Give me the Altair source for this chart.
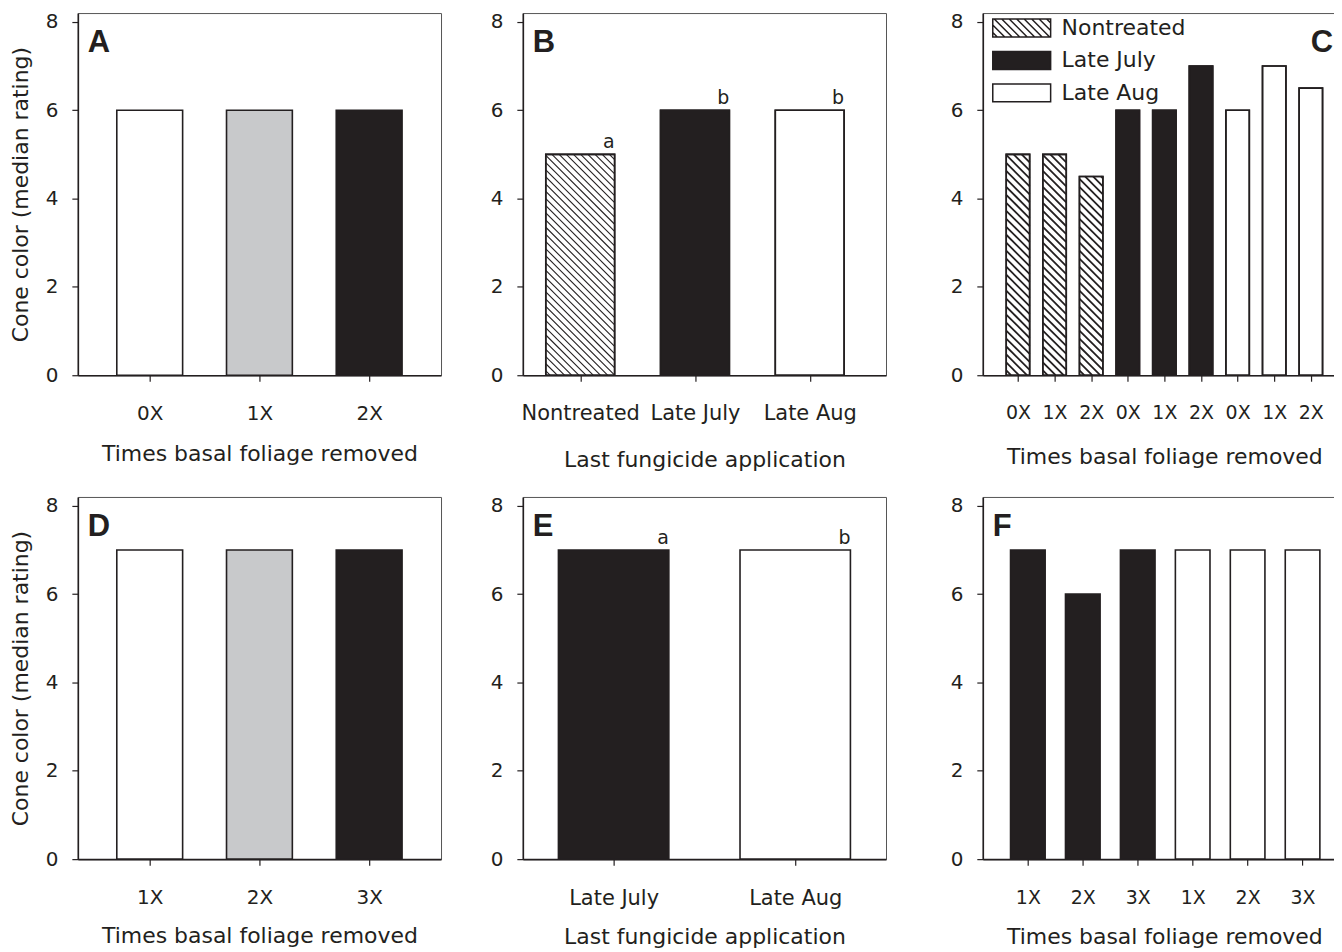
import json
import altair as alt
import pandas as pd

# ---------------- data ----------------
y_title = "Cone color (median rating)"
x_title_times = "Times basal foliage removed"
x_title_fung = "Last fungicide application"
panel_letters = ["A", "B", "C", "D", "E", "F"]
y_ticks = [0, 2, 4, 6, 8]
fungicide_groups = ["Nontreated", "Late July", "Late Aug"]

a_cats = ["0X", "1X", "2X"]
a_vals = [6, 6, 6]

b_cats = ["Nontreated", "Late July", "Late Aug"]
b_vals = [5, 6, 6]
b_sig = ["a", "b", "b"]

c_cats = ["0X", "1X", "2X", "0X", "1X", "2X", "0X", "1X", "2X"]
c_groups = ["Nontreated"] * 3 + ["Late July"] * 3 + ["Late Aug"] * 3
c_vals = [5, 5, 4.5, 6, 6, 7, 6, 7, 6.5]

d_cats = ["1X", "2X", "3X"]
d_vals = [7, 7, 7]

e_cats = ["Late July", "Late Aug"]
e_vals = [7, 7]
e_sig = ["a", "b"]

f_cats = ["1X", "2X", "3X", "1X", "2X", "3X"]
f_groups = ["Late July"] * 3 + ["Late Aug"] * 3
f_vals = [7, 6, 7, 7, 7, 7]

# ---------------- style ----------------
FONT = "DejaVu Sans"
BOLD_FONT = "Liberation Sans"
INK = "#231f20"
WHITE = "#ffffff"
GRAY = "#c8c9cb"
W, H = 364, 363
Y_MAX = 8.2


def make_df(cats, vals, groups=None, sig=None):
    d = {"pos": list(range(len(cats))), "cat": cats, "val": vals}
    if groups is not None:
        d["grp"] = groups
    if sig is not None:
        d["sig"] = sig
    return pd.DataFrame(d)


def hatch_rows(df, hw, xdom, step):
    """45-degree hatch segments clipped to each bar (bar geometry from data)."""
    kx = W / (xdom[1] - xdom[0])
    ky = H / Y_MAX
    rows = []
    for p, v in zip(df["pos"], df["val"]):
        wp, hp = 2 * hw * kx, v * ky
        c = step * 0.6
        while c < wp + hp:
            x0, x1 = max(0.0, c - hp), min(wp, c)
            rows.append(dict(hx=p - hw + x0 / kx, hy=(c - x0) / ky,
                             hx2=p - hw + x1 / kx, hy2=(c - x1) / ky))
            c += step
    return pd.DataFrame(rows)


# legend swatch: symbol "size" is 18x18 px (r = 9 px per unit); the drawn
# swatch is 58x18 px, shifted right of the symbol centre
SW_R = 9.0
SW_L, SW_RIGHT, SW_H = -5 / SW_R, 53 / SW_R, 1.0


def legend_path(hatched):
    p = f"M{SW_L:.3f},{-SW_H}H{SW_RIGHT:.3f}V{SW_H}H{SW_L:.3f}Z"
    if hatched:
        step = 7.5 / SW_R
        x = SW_L - 2 * SW_H + step * 0.6
        while x < SW_RIGHT:
            xs, ys, xe, ye = x, -SW_H, x + 2 * SW_H, SW_H
            if xs < SW_L:
                ys += (SW_L - xs)
                xs = SW_L
            if xe > SW_RIGHT:
                ye -= (xe - SW_RIGHT)
                xe = SW_RIGHT
            p += f"M{xs:.3f},{ys:.3f}L{xe:.3f},{ye:.3f}"
            x += step
    return p


def panel(df, xdom, hw, labels, fill_field, fill_dom, fill_rng, letter,
          letter_right, xtitle, ytitle, x_lab_size, x_lab_pad, x_title_pad,
          y_title_pad=0, hatch=None, sig=False, legend=False):
    xscale = alt.Scale(domain=xdom, nice=False, zero=False)
    yscale = alt.Scale(domain=[0, Y_MAX], nice=False, zero=True)
    x_axis = alt.Axis(values=list(range(len(labels))),
                      labelExpr=json.dumps(labels) + "[datum.value]",
                      title=xtitle, labelPadding=x_lab_pad,
                      titlePadding=x_title_pad, labelAngle=0,
                      labelFontSize=x_lab_size, labelOverlap=False)
    y_axis = alt.Axis(values=y_ticks, title=ytitle, titlePadding=y_title_pad)
    base = alt.Chart(df).transform_calculate(
        x0=f"datum.pos - {hw}", x1=f"datum.pos + {hw}"
    )
    leg = None
    if legend:
        leg = alt.Legend(orient="top-left", offset=4, padding=0,
                         title=None, labelFont=FONT, labelFontSize=22,
                         labelColor=INK, symbolSize=SW_R * SW_R * 4,
                         symbolStrokeColor=INK, symbolStrokeWidth=1.5,
                         symbolOpacity=1, labelOffset=53, rowPadding=8.5)
    fill = alt.Fill(f"{fill_field}:N",
                    scale=alt.Scale(domain=fill_dom, range=fill_rng),
                    legend=leg)
    layers = [
        base.mark_rect(stroke=INK, strokeWidth=1.6).encode(
            x=alt.X("x0:Q", scale=xscale, axis=x_axis), x2="x1:Q",
            y=alt.Y("val:Q", scale=yscale, axis=y_axis), y2=alt.datum(0),
            fill=fill,
        )
    ]
    if hatch is not None:
        hdf, hwidth = hatch
        layers.append(
            alt.Chart(hdf).mark_rule(stroke=INK, strokeWidth=hwidth).encode(
                x=alt.X("hx:Q", scale=xscale, axis=x_axis),
                x2="hx2:Q",
                y=alt.Y("hy:Q", scale=yscale, axis=y_axis),
                y2="hy2:Q",
            )
        )
        layers.append(
            base.mark_rect(stroke=INK, strokeWidth=1.6, fillOpacity=0).encode(
                x=alt.X("x0:Q", scale=xscale, axis=x_axis), x2="x1:Q",
                y=alt.Y("val:Q", scale=yscale, axis=y_axis), y2=alt.datum(0)
            )
        )
    if sig:
        layers.append(
            base.transform_calculate(tx=f"datum.pos + {hw}").mark_text(
                font=FONT, fontSize=19, color=INK, align="right",
                baseline="alphabetic", dy=-6
            ).encode(
                x=alt.X("tx:Q", scale=xscale, axis=x_axis),
                y=alt.Y("val:Q", scale=yscale, axis=y_axis),
                text="sig:N",
            )
        )
    if legend:
        paths = [legend_path(True), legend_path(False), legend_path(False)]
        layers.append(
            base.transform_filter("false").mark_point(
                filled=True, opacity=1, strokeWidth=1.5
            ).encode(
                shape=alt.Shape("grp:N", scale=alt.Scale(domain=fungicide_groups, range=paths), legend=leg),
                fill=alt.Fill("grp:N", scale=alt.Scale(domain=fill_dom, range=fill_rng), legend=leg),
                stroke=alt.Stroke("grp:N", scale=alt.Scale(domain=fungicide_groups, range=[INK, INK, INK]), legend=leg),
            )
        )
    lx = W - 13 if letter_right else 10
    layers.append(
        alt.Chart(pd.DataFrame({"t": [letter]})).mark_text(
            font=BOLD_FONT, fontWeight="bold", fontSize=31, color=INK,
            align="right" if letter_right else "left", baseline="alphabetic"
        ).encode(x=alt.value(lx), y=alt.value(39), text="t:N")
    )
    return alt.layer(*layers).properties(width=W, height=H)


dfa = make_df(a_cats, a_vals)
dfb = make_df(b_cats, b_vals, sig=b_sig)
dfc = make_df(c_cats, c_vals, groups=c_groups)
dfd = make_df(d_cats, d_vals)
dfe = make_df(e_cats, e_vals, sig=e_sig)
dff = make_df(f_cats, f_vals, groups=f_groups)

A_DOM, A_HW = [-0.655, 2.655], 0.3
B_DOM, B_HW = [-0.5, 2.665], 0.3
C_DOM, C_HW = [-0.96, 8.96], 0.32
E_DOM, E_HW = [-0.5, 1.5], 0.304
F_DOM, F_HW = [-0.82, 5.79], 0.315

pA = panel(dfa, A_DOM, A_HW, a_cats, "cat", a_cats, [WHITE, GRAY, INK],
           panel_letters[0], False, x_title_times, y_title, 20, 22, 20, 13)
pB = panel(dfb, B_DOM, B_HW, b_cats, "cat", b_cats, [WHITE, INK, WHITE],
           panel_letters[1], False, x_title_fung, None, 21, 21, 26,
           hatch=(hatch_rows(dfb[dfb["cat"] == "Nontreated"], B_HW, B_DOM, 7.2), 1.1),
           sig=True)
pC = panel(dfc, C_DOM, C_HW, c_cats, "grp", fungicide_groups, [WHITE, INK, WHITE],
           panel_letters[2], True, x_title_times, None, 19, 22, 24,
           hatch=(hatch_rows(dfc[dfc["grp"] == "Nontreated"], C_HW, C_DOM, 8.0), 1.8),
           legend=True)
pD = panel(dfd, A_DOM, A_HW, d_cats, "cat", d_cats, [WHITE, GRAY, INK],
           panel_letters[3], False, x_title_times, y_title, 20, 22, 19, 13)
pE = panel(dfe, E_DOM, E_HW, e_cats, "cat", e_cats, [INK, WHITE],
           panel_letters[4], False, x_title_fung, None, 21, 22, 19, sig=True)
pF = panel(dff, F_DOM, F_HW, f_cats, "grp", ["Late July", "Late Aug"], [INK, WHITE],
           panel_letters[5], False, x_title_times, None, 19, 23, 20)

IND = dict(fill="independent", shape="independent", stroke="independent")
row1 = alt.hconcat(
    alt.hconcat(pA, pB, spacing=47).resolve_scale(**IND), pC, spacing=62
).resolve_scale(**IND)
row2 = alt.hconcat(
    alt.hconcat(pD, pE, spacing=47).resolve_scale(**IND), pF, spacing=62
).resolve_scale(**IND)

chart = (
    alt.vconcat(row1, row2, spacing=24)
    .resolve_scale(**IND)
    .properties(padding={"left": 0, "top": 2, "right": -13, "bottom": 0}, background="white")
    .configure_view(stroke="#555555", strokeWidth=1)
    .configure_axis(
        domainColor=INK, domainWidth=1.6, tickColor=INK, tickWidth=1.2,
        tickSize=6, labelFont=FONT, labelFontSize=20, labelColor=INK,
        labelPadding=14, titleFont=FONT, titleFontSize=22,
        titleFontWeight="normal", titleColor=INK, grid=False,
    )
    .configure_axisY(labelPadding=14)
)

chart.save("out.html", embed_options={"renderer": "svg", "actions": False})
